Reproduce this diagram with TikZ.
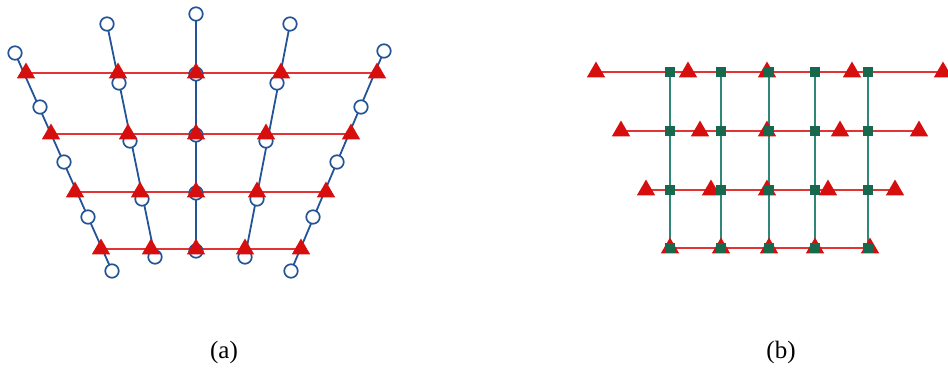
\documentclass[tikz,border=0pt]{standalone}
\usepackage{fontspec}
\setmainfont{Liberation Serif}
\usetikzlibrary{shapes.geometric,backgrounds}
\definecolor{trired}{RGB}{214,14,14}
\definecolor{linered}{RGB}{226,52,52}
\definecolor{cblue}{RGB}{34,84,150}
\definecolor{sqgreen}{RGB}{24,104,78}
\definecolor{linegreen}{RGB}{46,136,120}

\begin{document}
\begin{tikzpicture}[x=1pt,y=-1pt,
  tri/.style={regular polygon,regular polygon sides=3,minimum size=21pt,inner sep=0pt,fill=trired},
  circ/.style={circle,draw=cblue,line width=1.7pt,fill=white,minimum size=13.5pt,inner sep=0pt},
  sq/.style={rectangle,fill=sqgreen,minimum size=9.5pt,inner sep=0pt},
  rowline/.style={color=linered,line width=1.8pt},
  colline/.style={color=cblue,line width=1.8pt},
  gline/.style={color=linegreen,line width=1.8pt},
  captxt/.style={font=\fontsize{25}{29}\selectfont,inner sep=0pt}]
\useasboundingbox (0,0) rectangle (948,367);

%% (a) circles, column by column
\node[circ] (c11) at (15,53) {};
\node[circ] (c12) at (40,107) {};
\node[circ] (c13) at (64,162) {};
\node[circ] (c14) at (88,217) {};
\node[circ] (c15) at (112,271) {};

\node[circ] (c21) at (107,24) {};
\node[circ] (c22) at (119,83) {};
\node[circ] (c23) at (130,141) {};
\node[circ] (c24) at (142,199) {};
\node[circ] (c25) at (155,257) {};

\node[circ] (c31) at (196,14) {};
\node[circ] (c32) at (196,74) {};
\node[circ] (c33) at (196,135) {};
\node[circ] (c34) at (196,193) {};
\node[circ] (c35) at (196,251) {};

\node[circ] (c41) at (290,24) {};
\node[circ] (c42) at (277,83) {};
\node[circ] (c43) at (266,141) {};
\node[circ] (c44) at (257,199) {};
\node[circ] (c45) at (245,257) {};

\node[circ] (c51) at (384,51) {};
\node[circ] (c52) at (361,107) {};
\node[circ] (c53) at (337,162) {};
\node[circ] (c54) at (313,217) {};
\node[circ] (c55) at (291,271) {};

%% (a) triangles, row by row
\node[tri] (a11) at (26,73) {};
\node[tri] (a12) at (118,73) {};
\node[tri] (a13) at (196,73) {};
\node[tri] (a14) at (281,73) {};
\node[tri] (a15) at (377,73) {};

\node[tri] (a21) at (51,134) {};
\node[tri] (a22) at (128,134) {};
\node[tri] (a23) at (196,134) {};
\node[tri] (a24) at (266,134) {};
\node[tri] (a25) at (351,134) {};

\node[tri] (a31) at (75,192) {};
\node[tri] (a32) at (140,192) {};
\node[tri] (a33) at (196,192) {};
\node[tri] (a34) at (257,192) {};
\node[tri] (a35) at (326,192) {};

\node[tri] (a41) at (101,249) {};
\node[tri] (a42) at (151,249) {};
\node[tri] (a43) at (196,249) {};
\node[tri] (a44) at (245,249) {};
\node[tri] (a45) at (301,249) {};

%% (b) triangles
\node[tri] (b11) at (596,72) {};
\node[tri] (b12) at (688,72) {};
\node[tri] (b13) at (767,72) {};
\node[tri] (b14) at (852,72) {};
\node[tri] (b15) at (943,72) {};

\node[tri] (b21) at (621,131) {};
\node[tri] (b22) at (700,131) {};
\node[tri] (b23) at (767,131) {};
\node[tri] (b24) at (840,131) {};
\node[tri] (b25) at (919,131) {};

\node[tri] (b31) at (646,190) {};
\node[tri] (b32) at (711,190) {};
\node[tri] (b33) at (767,190) {};
\node[tri] (b34) at (828,190) {};
\node[tri] (b35) at (895,190) {};

\node[tri] (b41) at (670,248) {};
\node[tri] (b42) at (721,248) {};
\node[tri] (b43) at (769,248) {};
\node[tri] (b44) at (815,248) {};
\node[tri] (b45) at (870,248) {};

%% (b) squares
\node[sq] (s11) at (670,72) {};
\node[sq] (s12) at (721,72) {};
\node[sq] (s13) at (769,72) {};
\node[sq] (s14) at (815,72) {};
\node[sq] (s15) at (868,72) {};

\node[sq] (s21) at (670,131) {};
\node[sq] (s22) at (721,131) {};
\node[sq] (s23) at (769,131) {};
\node[sq] (s24) at (815,131) {};
\node[sq] (s25) at (868,131) {};

\node[sq] (s31) at (670,190) {};
\node[sq] (s32) at (721,190) {};
\node[sq] (s33) at (769,190) {};
\node[sq] (s34) at (815,190) {};
\node[sq] (s35) at (868,190) {};

\node[sq] (s41) at (670,248) {};
\node[sq] (s42) at (721,248) {};
\node[sq] (s43) at (769,248) {};
\node[sq] (s44) at (815,248) {};
\node[sq] (s45) at (868,248) {};

\begin{pgfonlayer}{background}
\draw[colline] (c11.center) -- (c15.center);
\draw[colline] (c21.center) -- (c25.center);
\draw[colline] (c31.center) -- (c35.center);
\draw[colline] (c41.center) -- (c45.center);
\draw[colline] (c51.center) -- (c55.center);

\draw[rowline] (a11.center) -- (a15.center);
\draw[rowline] (a21.center) -- (a25.center);
\draw[rowline] (a31.center) -- (a35.center);
\draw[rowline] (a41.center) -- (a45.center);

\draw[rowline] (b11.center) -- (b15.center);
\draw[rowline] (b21.center) -- (b25.center);
\draw[rowline] (b31.center) -- (b35.center);
\draw[rowline] (b41.center) -- (b45.center);

\draw[gline] (s11.center) -- (s41.center);
\draw[gline] (s12.center) -- (s42.center);
\draw[gline] (s13.center) -- (s43.center);
\draw[gline] (s14.center) -- (s44.center);
\draw[gline] (s15.center) -- (s45.center);
\end{pgfonlayer}

\node[captxt] (capa) at (224,352) {(a)};
\node[captxt] (capb) at (781,352) {(b)};

\end{tikzpicture}
\end{document}
